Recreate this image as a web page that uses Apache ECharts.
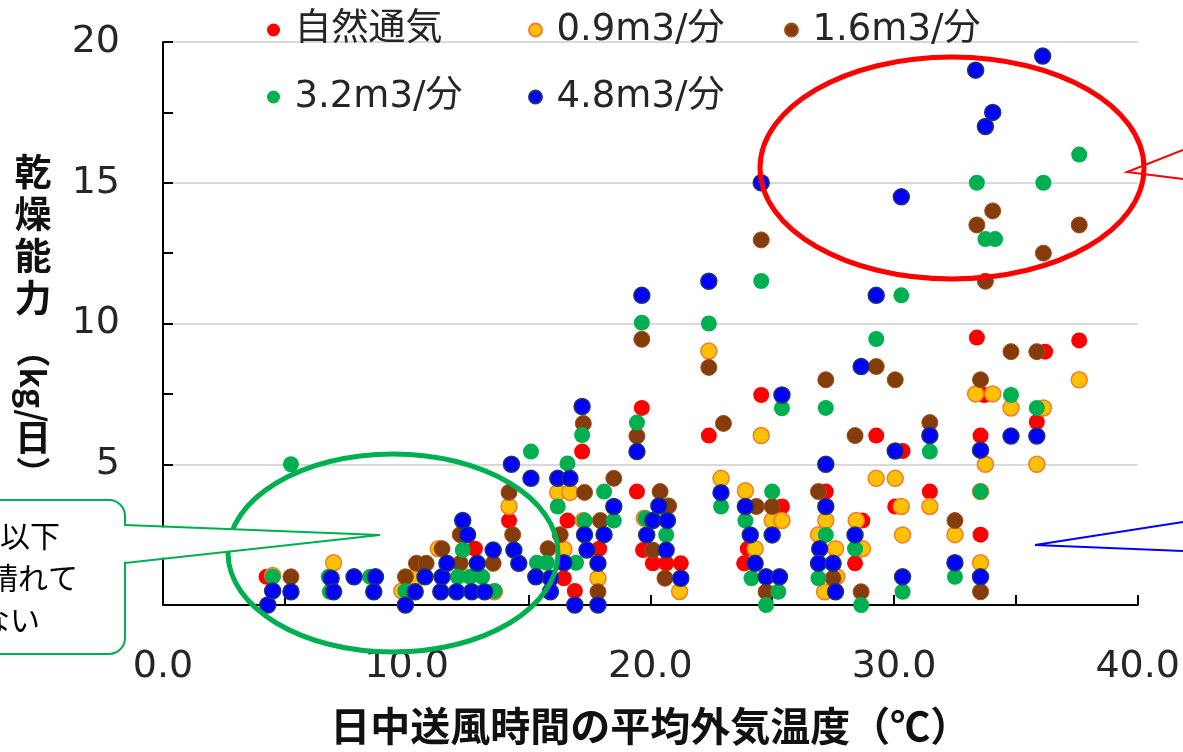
<!DOCTYPE html>
<html>
<head>
<meta charset="utf-8">
<script src="https://cdn.jsdelivr.net/npm/echarts@6/dist/echarts.min.js"></script>
<style>
html, body { margin: 0; padding: 0; background: #fff; }
#chart { width: 1183px; height: 752px; }
</style>
</head>
<body>
<div id="chart"></div>
<script>
// Series names
const seriesNames = ['自然通気', '0.9m3/分', '1.6m3/分', '3.2m3/分', '4.8m3/分'];

// [外気温度(℃), 乾燥能力(kg/日)]
const natural = [
  [4.25,1.0],[12.8,2.0],[14.2,3.0],[16.6,3.0],[16.9,0.5],[16.45,0.95],[17.2,5.45],[17.9,2.0],
  [19.65,7.0],[19.45,4.03],[19.7,1.95],[20.1,1.48],[20.65,1.48],[21.25,1.48],[22.4,6.02],
  [24.55,7.46],[23.85,1.48],[24.0,2.0],[25.4,3.5],[27.2,4.03],[28.7,3.0],[28.4,1.48],
  [29.27,6.02],[30.35,5.47],[30.05,3.5],[31.47,4.03],[33.4,9.5],[33.55,6.02],[33.7,7.46],
  [33.55,2.5],[35.86,6.5],[36.2,9.0],[37.6,9.4]
];
const flow09 = [
  [4.5,1.05],[7.0,1.5],[9.8,0.5],[10.3,1.0],[11.3,2.0],[13.6,0.47],[14.2,3.5],[16.2,4.0],
  [16.7,4.0],[16.45,1.98],[17.25,3.0],[17.85,0.95],[19.75,3.08],[21.2,0.48],[22.4,9.02],
  [22.9,4.5],[23.9,4.06],[24.55,6.02],[24.3,2.0],[25.0,3.0],[25.4,3.0],[26.9,2.5],[27.2,3.0],
  [27.6,2.0],[27.65,1.0],[27.15,0.47],[28.45,3.0],[28.7,2.0],[29.27,4.5],[30.05,4.5],[30.3,3.5],
  [30.35,2.49],[31.47,3.5],[32.5,2.5],[33.35,7.5],[34.05,7.5],[33.75,5.0],[33.55,1.5],
  [33.55,4.03],[34.8,7.0],[35.86,5.0],[36.13,7.0],[37.6,8.0]
];
const flow16 = [
  [5.25,1.0],[9.95,1.0],[10.4,1.48],[10.8,1.48],[11.45,2.0],[12.2,2.5],[12.2,1.48],[13.55,1.48],
  [14.2,4.0],[14.35,2.5],[15.8,2.0],[16.3,2.5],[17.25,6.45],[17.3,4.0],[17.95,3.0],[17.85,0.47],
  [18.5,4.5],[19.45,6.0],[19.65,9.44],[20.1,1.95],[20.4,4.03],[20.75,3.52],[20.6,0.95],
  [22.4,8.44],[23.0,6.45],[24.35,3.5],[24.55,12.97],[24.75,0.47],[25.0,3.5],[26.9,4.03],
  [27.2,8.0],[27.5,0.95],[28.4,6.02],[28.65,0.47],[29.27,8.47],[30.05,8.0],[31.47,6.48],
  [32.5,3.0],[33.4,13.5],[33.55,8.0],[33.55,0.47],[34.05,14.0],[33.75,11.5],[34.8,9.0],
  [35.86,9.0],[36.13,12.5],[37.6,13.5]
];
const flow32 = [
  [5.25,5.0],[4.5,1.0],[6.8,1.0],[6.85,0.47],[8.5,1.0],[9.95,0.5],[12.1,1.0],[12.6,1.0],
  [13.1,1.0],[12.3,1.95],[13.6,0.5],[15.1,5.45],[15.35,1.5],[15.75,1.5],[16.6,5.03],[16.2,3.5],
  [16.95,1.5],[17.3,3.0],[17.2,6.04],[18.1,4.03],[18.5,3.0],[19.45,6.48],[19.65,10.03],
  [19.8,3.08],[20.65,2.49],[22.4,10.0],[22.9,3.5],[23.9,3.0],[24.15,0.95],[24.55,11.51],
  [24.75,0.0],[25.0,4.03],[25.25,0.47],[25.4,6.99],[26.9,0.95],[27.2,2.49],[27.2,7.0],
  [28.4,2.0],[28.65,0.0],[29.27,9.45],[30.3,11.0],[30.35,0.47],[31.47,5.45],[32.5,1.0],
  [33.4,15.0],[33.55,4.03],[33.75,13.0],[34.15,13.0],[34.8,7.46],[35.86,7.0],[36.13,15.0],
  [37.6,16.0]
];
const flow48 = [
  [4.3,0.0],[4.5,0.5],[5.25,0.47],[6.9,0.95],[7.0,0.47],[7.84,1.0],[8.72,1.0],[8.65,0.47],
  [9.95,0.0],[10.35,0.47],[10.75,1.0],[11.4,0.47],[11.45,1.0],[11.65,1.48],[12.05,0.47],
  [12.67,0.47],[13.2,0.47],[12.3,3.0],[12.5,2.5],[12.9,1.48],[13.55,1.95],[14.3,5.0],
  [14.4,1.95],[14.6,1.48],[15.1,4.5],[15.3,1.0],[15.9,0.95],[15.9,0.47],[16.2,4.5],[16.7,4.5],
  [16.45,1.5],[16.9,0.0],[17.2,7.05],[17.3,2.5],[17.4,1.95],[17.85,1.48],[17.85,0.0],
  [18.1,2.5],[18.5,3.5],[19.45,5.45],[19.65,11.0],[19.85,2.49],[20.1,3.0],[20.7,3.0],
  [20.35,3.52],[20.65,1.95],[21.25,0.95],[22.4,11.5],[22.9,3.99],[23.9,3.5],[24.1,2.49],
  [24.3,1.48],[24.55,15.0],[24.75,1.0],[25.3,1.0],[25.0,2.49],[25.4,7.46],[26.95,2.0],
  [26.9,1.48],[27.5,1.48],[27.6,0.47],[27.2,3.5],[27.2,5.0],[28.4,2.49],[28.65,8.47],
  [29.27,11.0],[30.05,5.47],[30.3,14.5],[30.35,1.0],[31.47,6.02],[32.5,1.5],[33.35,19.0],
  [33.55,5.5],[33.55,1.0],[33.75,17.0],[34.05,17.5],[34.8,6.0],[35.86,6.0],[36.1,19.5]
];

const seriesData = [natural, flow09, flow16, flow32, flow48];
const seriesStyles = [
  { color: '#FF0000', borderColor: '#FF0000', borderWidth: 0 },
  { color: '#FFC000', borderColor: '#ED7D31', borderWidth: 1.5 },
  { color: '#843C0C', borderColor: '#A0501A', borderWidth: 1 },
  { color: '#00B050', borderColor: '#00B050', borderWidth: 0 },
  { color: '#0000FF', borderColor: '#1F3864', borderWidth: 1.5 }
];

// Legend positions (two rows)
const legendSpots = [
  { left: 267, top: 10 }, { left: 528, top: 10 }, { left: 784, top: 10 },
  { left: 267, top: 77 }, { left: 528, top: 77 }
];

const tickFont = 'DejaVu Sans, "Noto Sans CJK JP", sans-serif';
const cjkFont = '"Noto Sans CJK JP", sans-serif';

const chart = echarts.init(document.getElementById('chart'));

const axisBlack = { color: '#000', width: 2 };

chart.setOption({
  animation: false,
  backgroundColor: '#fff',
  grid: { left: 163, right: 38, top: 42, bottom: 147, containLabel: false },
  legend: seriesNames.map((n, i) => ({
    data: [n],
    left: legendSpots[i].left,
    top: legendSpots[i].top,
    icon: 'circle',
    itemWidth: 32,
    itemHeight: 13,
    itemGap: 0,
    padding: 0,
    selectedMode: false,
    textStyle: { fontSize: 37, lineHeight: 40, color: '#262626', fontFamily: tickFont }
  })),
  xAxis: {
    type: 'value', min: 0, max: 40, interval: 10,
    axisLine: { show: true, lineStyle: axisBlack },
    axisTick: { show: true, inside: true, length: 10, lineStyle: axisBlack },
    minorTick: { show: true, splitNumber: 2, length: 10, lineStyle: axisBlack },
    splitLine: { show: false },
    axisLabel: {
      formatter: v => v.toFixed(1), margin: 43,
      fontSize: 38, color: '#262626', fontFamily: tickFont
    },
    name: '日中送風時間の平均外気温度（℃）',
    nameLocation: 'middle', nameGap: 101,
    nameTextStyle: { fontSize: 40, fontWeight: 'bold', color: '#111', fontFamily: cjkFont }
  },
  yAxis: {
    type: 'value', min: 0, max: 20, interval: 5,
    axisLine: { show: true, lineStyle: axisBlack },
    axisTick: { show: true, inside: true, length: 10, lineStyle: axisBlack },
    minorTick: { show: true, splitNumber: 2, length: 10, lineStyle: axisBlack },
    splitLine: { show: true, lineStyle: { color: '#D9D9D9', width: 2 } },
    axisLabel: { margin: 43, fontSize: 38, color: '#262626', fontFamily: tickFont }
  },
  series: seriesNames.map((n, i) => ({
    name: n, type: 'scatter', data: seriesData[i],
    symbol: 'circle', symbolSize: 16,
    itemStyle: Object.assign({ opacity: 1 }, seriesStyles[i]),
    emphasis: { disabled: true }
  })),
  graphic: [
    // y axis title: upright kanji, rotated bracketed unit
    { type: 'text', z: 50, x: 33, y: 151,
      style: { text: '乾\n燥\n能\n力', align: 'center', verticalAlign: 'top', fontSize: 37, lineHeight: 42,
               fontWeight: 'bold', fontFamily: cjkFont, fill: '#111' } },
    { type: 'text', z: 50, x: 33, y: 378, rotation: -Math.PI / 2,
      style: { text: '（kg/', align: 'center', verticalAlign: 'middle', fontSize: 34,
               fontWeight: 'bold', fontFamily: cjkFont, fill: '#111' } },
    { type: 'text', z: 50, x: 33, y: 437,
      style: { text: '日', align: 'center', verticalAlign: 'middle', fontSize: 36,
               fontWeight: 'bold', fontFamily: cjkFont, fill: '#111' } },
    { type: 'text', z: 50, x: 33, y: 473, rotation: -Math.PI / 2,
      style: { text: '）', align: 'center', verticalAlign: 'middle', fontSize: 34,
               fontWeight: 'bold', fontFamily: cjkFont, fill: '#111' } },

    // high-temperature group
    { type: 'ellipse', z: 100, shape: { cx: 952, cy: 168, rx: 192, ry: 111 },
      style: { fill: null, stroke: '#FF0000', lineWidth: 5 } },
    { type: 'polyline', z: 100, shape: { points: [[1183, 150], [1127, 172], [1183, 179]] },
      style: { fill: null, stroke: '#FF0000', lineWidth: 2 } },

    // low-temperature group
    { type: 'ellipse', z: 100, shape: { cx: 393, cy: 553, rx: 165, ry: 99 },
      style: { fill: null, stroke: '#00B050', lineWidth: 5 } },

    // callout box on the left
    { type: 'rect', z: 100, shape: { x: -20, y: 500, width: 145, height: 154, r: 16 },
      style: { fill: '#fff', stroke: '#00B050', lineWidth: 2 } },
    { type: 'polygon', z: 101, shape: { points: [[122, 526], [380, 535], [122, 562]] },
      style: { fill: '#fff' } },
    { type: 'polyline', z: 102, shape: { points: [[125, 525], [380, 535], [125, 563]] },
      style: { fill: null, stroke: '#00B050', lineWidth: 2 } },
    { type: 'text', z: 103, x: 60, y: 536,
      style: { text: '10℃以下', align: 'right', verticalAlign: 'middle', fontSize: 30, fontFamily: cjkFont, fill: '#000' } },
    { type: 'text', z: 103, x: 78, y: 578,
      style: { text: 'は晴れて', align: 'right', verticalAlign: 'middle', fontSize: 30, fontFamily: cjkFont, fill: '#000' } },
    { type: 'text', z: 103, x: 40, y: 620,
      style: { text: 'いない', align: 'right', verticalAlign: 'middle', fontSize: 30, fontFamily: cjkFont, fill: '#000' } },

    // pointer on the right
    { type: 'polyline', z: 100, shape: { points: [[1183, 522], [1035, 545], [1183, 551]] },
      style: { fill: null, stroke: '#0000FF', lineWidth: 2 } }
  ]
});
</script>
</body>
</html>
